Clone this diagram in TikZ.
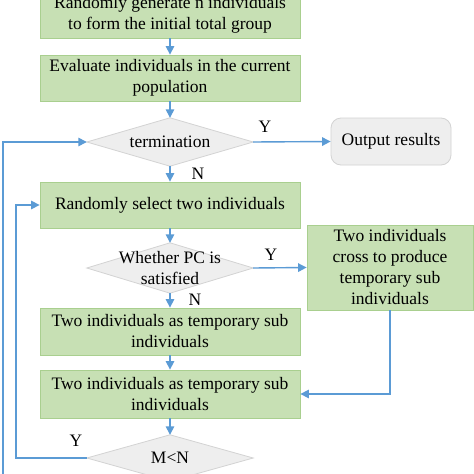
\documentclass[tikz,border=0pt]{standalone}
\usepackage{fontspec}
\setmainfont{Liberation Serif}
\usetikzlibrary{arrows.meta}
\definecolor{boxfill}{HTML}{C7E0B4}
\definecolor{boxline}{HTML}{A9CF8F}
\definecolor{dfill}{HTML}{EEEEEE}
\definecolor{dline}{HTML}{D3D3D3}
\definecolor{lineblue}{HTML}{5B9BD5}
\begin{document}
\begin{tikzpicture}[x=1pt,y=-1pt,
  every node/.style={font=\fontsize{17.5}{21}\selectfont, inner sep=0pt, align=center},
  gbox/.style={draw=boxline, fill=boxfill, line width=0.8pt, minimum width=260pt, minimum height=#1},
  gbox/.default=46pt,
  dslot/.style={minimum width=166pt, minimum height=#1},
  dslot/.default=48pt,
  dshape/.style={draw=dline, fill=dfill, line width=0.8pt},
  obox/.style={draw=dline, fill=dfill, line width=0.8pt, rounded corners=10pt, minimum width=120pt, minimum height=47pt},
  conn/.style={draw=lineblue, line width=1.4pt, -{Triangle[length=8.5pt,width=8.5pt]}},
  lbl/.style={font=\fontsize{17.5}{21}\selectfont}
]
\useasboundingbox (0,0) rectangle (474,474);
\fill[white] (0,0) rectangle (474,474);

% nodes
\node[gbox] (b1) at (170,15) {Randomly generate n individuals\\to form the initial total group};
\node[gbox] (b2) at (170,78) {Evaluate individuals in the current\\population};
\node[dslot] (d1) at (170,142) {};
\node[gbox] (b3) at (170,205) {Randomly select two individuals};
\node[dslot=50pt] (d2) at (170,268) {};
\node[gbox=85pt, minimum width=166pt] (rb) at (390,267.5) {Two individuals\\cross to produce\\temporary sub\\individuals};
\node[gbox=47pt] (b4) at (170,331.5) {Two individuals as temporary sub\\individuals};
\node[gbox=48pt] (b5) at (170,394) {Two individuals as temporary sub\\individuals};
\node[dslot=46pt] (d3) at (170,458) {};
\node[obox] (out) at (391,141.5) {Output results};

% diamonds
\foreach \d in {d1,d2,d3}{
  \draw[dshape] (\d.west) -- (\d.north) -- (\d.east) -- (\d.south) -- cycle;
}
\node at (d1) {termination};
\node at (d2) {Whether PC is\\satisfied};
\node at (d3) {M<N};

% labels
\node[lbl] (ly1) at (265,127) {Y};
\node[lbl] (ln1) at (198,174) {N};
\node[lbl] (ly2) at (271,255) {Y};
\node[lbl] (ln2) at (195,300) {N};
\node[lbl] (ly3) at (76,441) {Y};

% coordinates for bends
\coordinate (c1) at (3,474);
\coordinate (c2) at (3,142);
\coordinate (c3) at (16,458);
\coordinate (c4) at (16,205);
\coordinate (c5) at (390,394);

% connectors
\draw[conn] (b1.south) -- (b2.north);
\draw[conn] (b2.south) -- (d1.north);
\draw[conn] (d1.east) -- (out.west);
\draw[conn] (d1.south) -- (b3.north);
\draw[conn] (b3.south) -- (d2.north);
\draw[conn] (d2.east) -- (rb.west);
\draw[conn] (d2.south) -- (b4.north);
\draw[conn] (b4.south) -- (b5.north);
\draw[conn] (rb.south) -- (c5) -- (b5.east);
\draw[conn] (b5.south) -- (d3.north);
\draw[conn] (d3.west) -- (c3) -- (c4) -- (b3.west);
\draw[conn] (c1) -- (c2) -- (d1.west);
\end{tikzpicture}
\end{document}
